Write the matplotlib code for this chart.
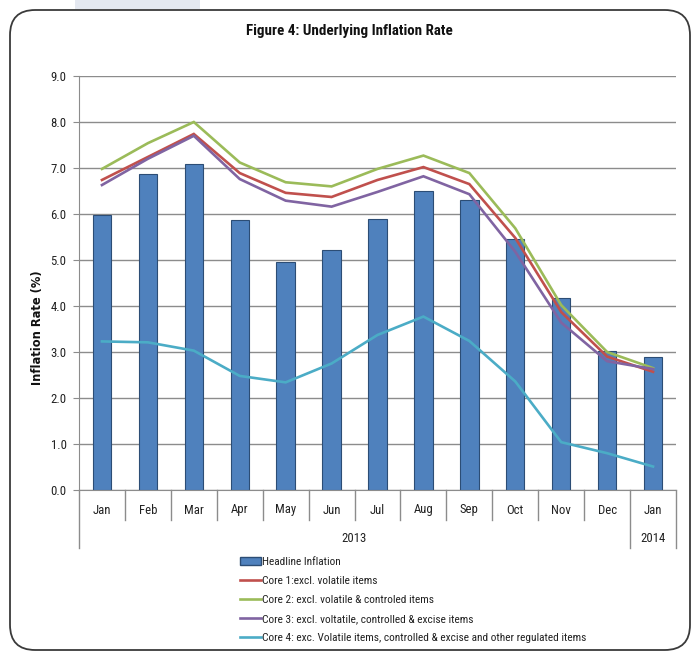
# modules
import numpy as np
import matplotlib
matplotlib.use('Agg')
import matplotlib.pyplot as plt
import matplotlib.transforms as mtransforms
from matplotlib.patches import FancyBboxPatch, Rectangle, Patch
from matplotlib.lines import Line2D

plt.rcParams['font.family'] = ['Roboto Condensed', 'Roboto', 'DejaVu Sans']

# data
months = ['Jan', 'Feb', 'Mar', 'Apr', 'May', 'Jun', 'Jul', 'Aug', 'Sep', 'Oct', 'Nov', 'Dec', 'Jan']
years = ['2013', '2014']
year_spans = [(0, 11), (12, 12)]
headline = [5.97, 6.88, 7.08, 5.87, 4.96, 5.22, 5.90, 6.50, 6.30, 5.45, 4.18, 3.02, 2.90]
core1 = [6.74, 7.24, 7.74, 6.89, 6.46, 6.37, 6.74, 7.02, 6.65, 5.48, 3.87, 2.90, 2.57]
core2 = [6.98, 7.54, 8.00, 7.12, 6.69, 6.60, 6.98, 7.27, 6.89, 5.69, 4.02, 3.00, 2.65]
core3 = [6.63, 7.20, 7.70, 6.76, 6.29, 6.16, 6.48, 6.82, 6.43, 5.18, 3.64, 2.80, 2.63]
core4 = [3.23, 3.21, 3.03, 2.48, 2.34, 2.75, 3.37, 3.77, 3.24, 2.36, 1.04, 0.80, 0.51]

labels = ['Headline Inflation',
          'Core 1:excl. volatile items',
          'Core 2: excl. volatile & controled items',
          'Core 3: excl. voltatile, controlled & excise items',
          'Core 4: exc. Volatile items, controlled & excise and other regulated items']
colors_lines = ['#C0504D', '#9BBB59', '#8064A2', '#4BACC6']

W, H = 699, 655
fig = plt.figure(figsize=(W / 100, H / 100), dpi=100)
fig.patch.set_facecolor('white')

# faint page background behind the frame
fig.patches.append(Rectangle((75 / W, 1 - 9 / H), 125 / W, 9 / H, transform=fig.transFigure,
                             facecolor='#E4E8F0', edgecolor='none', zorder=0))

# rounded outer frame
frame = FancyBboxPatch((10 / W, 1 - 650 / H), 680 / W, 640 / H,
                       boxstyle='round,pad=0,rounding_size=0.036', mutation_aspect=W / H,
                       transform=fig.transFigure, facecolor='white', edgecolor='#3a3a3a',
                       linewidth=1.3, zorder=1)
fig.patches.append(frame)

ax = fig.add_axes([79 / W, 1 - 490 / H, 597 / W, 414 / H])
ax.set_zorder(2)
ax.patch.set_alpha(0)

x = np.arange(len(months))
ax.bar(x, headline, width=0.4, color='#4F81BD', edgecolor='#2C4D75', linewidth=0.8, zorder=2)
for vals, c in zip([core1, core2, core3, core4], colors_lines):
    ax.plot(x, vals, color=c, linewidth=1.9, zorder=3, solid_joinstyle='miter')

ax.set_xlim(-0.5, len(months) - 0.5)
ax.set_ylim(0, 9)
ax.set_yticks(np.arange(0, 9.5, 1.0))
ax.set_yticklabels(['%.1f' % v for v in np.arange(0, 9.5, 1.0)], fontsize=9.2, color='#222222')
ax.yaxis.grid(True, color='#8c8c8c', linewidth=1.0, zorder=0)
ax.set_axisbelow(True)
ax.tick_params(axis='y', length=4, color='#8c8c8c', pad=5)
ax.set_xticks([])
for s in ['top', 'right']:
    ax.spines[s].set_visible(False)
ax.spines['left'].set_color('#8c8c8c')
ax.spines['bottom'].set_color('#8c8c8c')

# y axis title, sits below the middle of the axis
fig.text(38 / W, 1 - 328 / H, 'Inflation Rate (%)', rotation=90, ha='center', va='center',
         fontsize=8.3, fontweight='bold', family='DejaVu Sans', color='#111111')

# two level category axis
trans = mtransforms.blended_transform_factory(ax.transData, ax.transAxes)
px = 1 / 414
for i, m in enumerate(months):
    ax.text(i, -20 * px, m, transform=trans, ha='center', va='center', fontsize=9.2, color='#222222')
for k in range(len(months) + 1):
    bottom = -30 * px
    if k in (0, 12, 13):
        bottom = -58 * px
    ax.add_line(Line2D([k - 0.5, k - 0.5], [0, bottom], transform=trans, color='#8c8c8c',
                       linewidth=1.0, clip_on=False))
for yr, (a, b) in zip(years, year_spans):
    ax.text((a + b) / 2, -49 * px, yr, transform=trans, ha='center', va='center', fontsize=9.2,
            color='#222222')

fig.text(0.5, 1 - 31 / H, 'Figure 4: Underlying Inflation Rate', ha='center', va='center',
         fontsize=10.8, fontweight='bold', color='#111111')

handles = [Patch(facecolor='#4F81BD', edgecolor='#2C4D75')]
handles += [Line2D([], [], color=c, linewidth=1.9) for c in colors_lines]
fig.legend(handles, labels, loc='upper left', bbox_to_anchor=(240 / W, 1 - 557 / H),
           frameon=False, fontsize=8.2, handlelength=1.8, handleheight=0.7,
           handletextpad=0.1, labelspacing=0.79, borderpad=0, borderaxespad=0,
           labelcolor='#222222')

plt.savefig('out.png', dpi=100)
plt.close()
